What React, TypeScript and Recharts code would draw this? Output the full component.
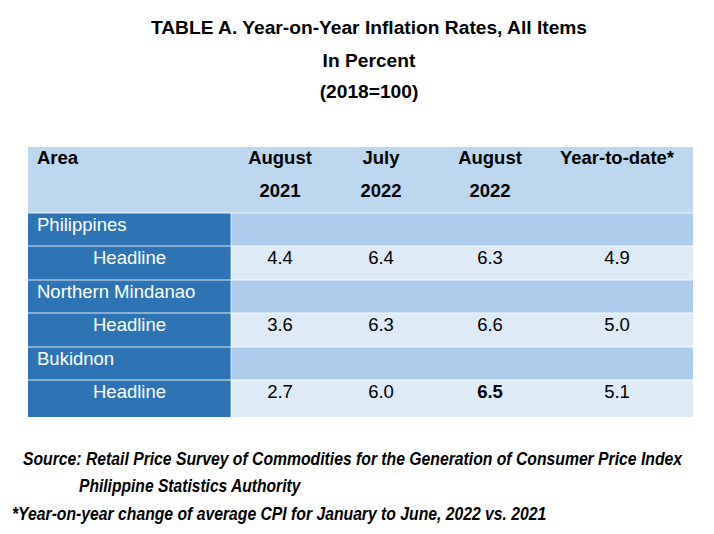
import React from 'react';
import { Surface, Layer, Rectangle, Text } from 'recharts';

// table content
const titleLines = ['TABLE A. Year-on-Year Inflation Rates, All Items', 'In Percent', '(2018=100)'];
const periodHeaders = [['August', '2021'], ['July', '2022'], ['August', '2022'], ['Year-to-date*', '']];
const areas = ['Philippines', 'Northern Mindanao', 'Bukidnon'];
const rowLabel = 'Headline';
const aug2021 = ['4.4', '3.6', '2.7'];
const jul2022 = ['6.4', '6.3', '6.0'];
const aug2022 = ['6.3', '6.6', '6.5'];
const ytd = ['4.9', '5.0', '5.1'];
const boldCells = ['2-2']; // Bukidnon, August 2022
const footnotes = [
  'Source: Retail Price Survey of Commodities for the Generation of Consumer Price Index',
  'Philippine Statistics Authority',
  '*Year-on-year change of average CPI for January to June, 2022 vs. 2021',
];

const W = 714;
const H = 534;
const FONT = '"Liberation Sans", Arial, sans-serif';

const TABLE_L = 28;
const TABLE_R = 693;
const LEFT_COL_R = 231;
const HEADER_TOP = 147;
const ROW_EDGES = [213, 246, 280, 313, 347, 380, 417];
const COL_CENTERS = [280, 381, 490, 617];

const C_HEADER = '#BDD7EE';
const C_DARK = '#2E74B5';
const C_GROUP = '#ADCBEA';
const C_DATA = '#DEEAF6';

const FOOT_SIZE = 17.5;
const footLayout = [
  { x: 23, y: 465, w: 660 },
  { x: 79, y: 492, w: 222 },
  { x: 12, y: 520, w: 535 },
];

// the source footnotes are set in a narrow face; squeeze a normal one to the same width
const measure = (s: string) => {
  const ctx = document.createElement('canvas').getContext('2d');
  if (!ctx) return s.length * FOOT_SIZE * 0.55;
  ctx.font = `italic bold ${FOOT_SIZE}px "Liberation Sans", Arial, sans-serif`;
  return ctx.measureText(s).width;
};

const App: React.FC = () => {
  const periods = [aug2021, jul2022, aug2022, ytd];

  const rows: { label: string; group: boolean; area: number }[] = [];
  areas.forEach((a, i) => {
    rows.push({ label: a, group: true, area: i });
    rows.push({ label: rowLabel, group: false, area: i });
  });

  return (
    <div style={{ position: 'fixed', left: 0, top: 0, width: W, height: H, background: '#fff' }}>
      <Surface width={W} height={H}>
        {/* title */}
        <Layer>
          {titleLines.map((t, i) => (
            <Text
              key={t}
              x={369}
              y={[34, 67, 98][i]}
              textAnchor="middle"
              fontFamily={FONT}
              fontSize={19.2}
              fontWeight="bold"
              fill="#000"
            >
              {t}
            </Text>
          ))}
        </Layer>

        {/* header */}
        <Layer>
          <Rectangle x={TABLE_L} y={HEADER_TOP} width={TABLE_R - TABLE_L} height={ROW_EDGES[0] - HEADER_TOP} fill={C_HEADER} />
          <Text x={37} y={164} fontFamily={FONT} fontSize={18.5} fontWeight="bold" fill="#000">
            Area
          </Text>
          {periodHeaders.map((lines, c) =>
            lines.map((l, k) =>
              l ? (
                <Text
                  key={`h${c}-${k}`}
                  x={COL_CENTERS[c]}
                  y={k === 0 ? 164 : 197}
                  textAnchor="middle"
                  fontFamily={FONT}
                  fontSize={18.5}
                  fontWeight="bold"
                  fill="#000"
                >
                  {l}
                </Text>
              ) : null
            )
          )}
        </Layer>

        {/* body rows */}
        <Layer>
          {rows.map((r, i) => {
            const top = ROW_EDGES[i];
            const h = ROW_EDGES[i + 1] - top;
            return (
              <Layer key={`r${i}`}>
                <Rectangle x={TABLE_L} y={top} width={LEFT_COL_R - TABLE_L} height={h} fill={C_DARK} />
                <Rectangle x={LEFT_COL_R} y={top} width={TABLE_R - LEFT_COL_R} height={h} fill={r.group ? C_GROUP : C_DATA} />
                <Text
                  x={r.group ? 37 : 93}
                  y={top + 18}
                  fontFamily={FONT}
                  fontSize={18.5}
                  fill="#fff"
                >
                  {r.label}
                </Text>
                {!r.group &&
                  periods.map((vals, c) => (
                    <Text
                      key={`v${i}-${c}`}
                      x={COL_CENTERS[c]}
                      y={top + 18}
                      textAnchor="middle"
                      fontFamily={FONT}
                      fontSize={18.5}
                      fontWeight={boldCells.includes(`${r.area}-${c}`) ? 'bold' : 'normal'}
                      fill="#000"
                    >
                      {vals[r.area]}
                    </Text>
                  ))}
              </Layer>
            );
          })}
          {/* white cell borders */}
          {ROW_EDGES.slice(0, -1).map((y) => (
            <line key={`l${y}`} x1={TABLE_L} x2={TABLE_R} y1={y} y2={y} stroke="#fff" strokeWidth={1.2} strokeOpacity={0.85} />
          ))}
          <line x1={LEFT_COL_R} x2={LEFT_COL_R} y1={ROW_EDGES[0]} y2={ROW_EDGES[ROW_EDGES.length - 1]} stroke="#fff" strokeWidth={1} strokeOpacity={0.7} />
        </Layer>

        {/* footnotes */}
        <Layer>
          {footnotes.map((f, i) => {
            const { x, y, w } = footLayout[i];
            const sx = w / measure(f);
            return (
              <g key={`f${i}`} transform={`translate(${x},${y}) scale(${sx},1)`}>
                <text
                  x={0}
                  y={0}
                  fontFamily={FONT}
                  fontSize={FOOT_SIZE}
                  fontStyle="italic"
                  fontWeight="bold"
                  fill="#000"
                >
                  {f}
                </text>
              </g>
            );
          })}
        </Layer>
      </Surface>
    </div>
  );
};

export default App;
